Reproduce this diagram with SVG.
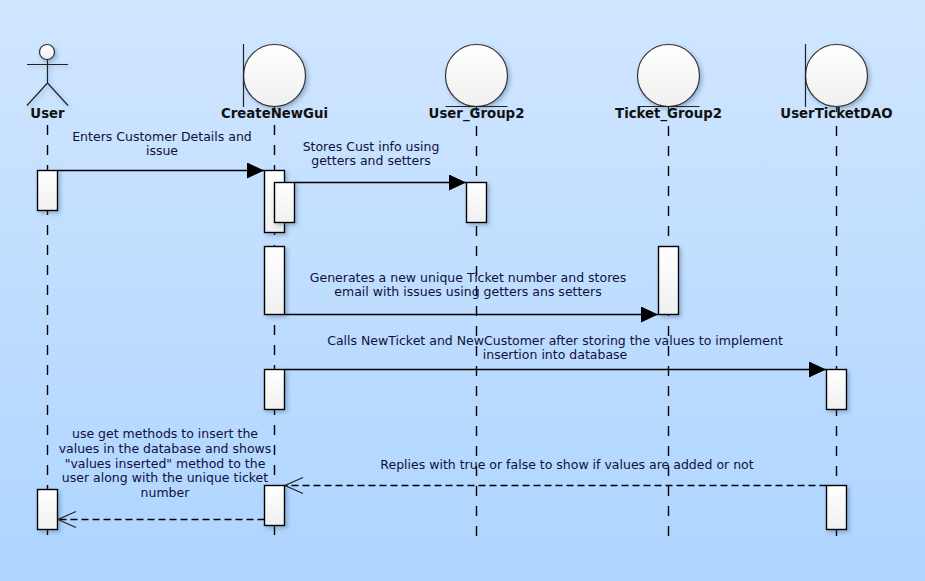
<svg xmlns="http://www.w3.org/2000/svg" width="925" height="581" viewBox="0 0 925 581">
<style>
text{font-family:"DejaVu Sans",Verdana,sans-serif;font-size:12.5px;fill:#10103a;text-anchor:middle}
.n{font-weight:bold;fill:#111;font-size:13.300px}
.life{stroke:#000;stroke-width:1.4;stroke-dasharray:10 10;fill:none}
.act{fill:url(#fill);stroke:#000;stroke-width:1.4;filter:url(#sh)}
.shape{fill:url(#fill);stroke:#333;stroke-width:1.2;filter:url(#sh)}
.ln{stroke:#222;stroke-width:1.2;fill:none}
.stick{filter:url(#sh)}
.msg{stroke:#000;stroke-width:1.3;fill:none}
.solid{marker-end:url(#tri)}
.ret{stroke-dasharray:7 4;marker-end:url(#open)}
</style>
<defs>
<linearGradient id="bg" x1="0" y1="0" x2="0" y2="1"><stop offset="0" stop-color="#d0e6ff"/><stop offset="1" stop-color="#aed5ff"/></linearGradient>
<linearGradient id="fill" x1="0" y1="0" x2="0" y2="1"><stop offset="0" stop-color="#ffffff"/><stop offset="1" stop-color="#f0f0f0"/></linearGradient>
<filter id="sh" x="-30%" y="-30%" width="170%" height="170%"><feDropShadow dx="2" dy="2" stdDeviation="2" flood-color="#3a5a80" flood-opacity="0.4"/></filter>
<marker id="tri" markerUnits="userSpaceOnUse" markerWidth="18" markerHeight="16" refX="17" refY="8" orient="auto"><path d="M0 0L17 8L0 16Z" fill="#000"/></marker>
<marker id="open" markerUnits="userSpaceOnUse" markerWidth="20" markerHeight="20" refX="19" refY="9" orient="auto"><path d="M1 1L19 9L1 17" fill="none" stroke="#222" stroke-width="1.2"/></marker>
</defs>
<rect width="925" height="581" fill="url(#bg)"/>

<g id="lifelines">
<path class="life" d="M47.500 125V536"/>
<path class="life" d="M274.500 125V536"/>
<path class="life" d="M476.500 126V537"/>
<path class="life" d="M668.500 126V537"/>
<path class="life" d="M836.500 126V537"/>
</g>

<g id="node-user">
<circle class="shape" cx="47" cy="52" r="7.500"/>
<path class="ln stick" d="M27 64.500H68M47.500 60V83M47.500 83L27 105.500M47.500 83L68 105.500"/>
<text class="n" x="47.500" y="118">User</text>
<rect class="act" x="37.500" y="170.500" width="20" height="40"/>
<rect class="act" x="37.500" y="489.500" width="20" height="40"/>
</g>
<g id="node-createnewgui">
<circle class="shape" cx="274.500" cy="75.500" r="31"/>
<path class="ln" d="M243.500 44V107M274.500 107V112"/>
<text class="n" x="274.500" y="118">CreateNewGui</text>
<rect class="act" x="264.500" y="170.500" width="20" height="62"/>
<rect class="act" x="274.500" y="182.500" width="20" height="40"/>
<rect class="act" x="264.500" y="246.500" width="20" height="68"/>
<rect class="act" x="264.500" y="369.500" width="20" height="40"/>
<rect class="act" x="264.500" y="485.500" width="20" height="40"/>
</g>
<g id="node-user-group2">
<circle class="shape" cx="476.500" cy="75.500" r="31"/>
<path class="ln" d="M445.500 106.500H507.500M476.500 107V112"/>
<text class="n" x="476.500" y="118">User_Group2</text>
<rect class="act" x="466.500" y="182.500" width="20" height="40"/>
</g>
<g id="node-ticket-group2">
<circle class="shape" cx="668.500" cy="75.500" r="31"/>
<path class="ln" d="M637.500 106.500H699.500M668.500 107V112"/>
<text class="n" x="668.500" y="118">Ticket_Group2</text>
<rect class="act" x="658.500" y="246.500" width="20" height="68"/>
</g>
<g id="node-userticketdao">
<circle class="shape" cx="836.500" cy="75.500" r="31"/>
<path class="ln" d="M805.500 44V107M836.500 107V112"/>
<text class="n" x="836.500" y="118">UserTicketDAO</text>
<rect class="act" x="826.500" y="369.500" width="20" height="40"/>
<rect class="act" x="826.500" y="485.500" width="20" height="44"/>
</g>

<g id="connectors">
<path class="msg solid" d="M57.500 170.500H264"/>
<path class="msg solid" d="M294.500 182.500H466"/>
<path class="msg solid" d="M284.500 314.500H658"/>
<path class="msg solid" d="M284.500 369.500H826"/>
<path class="msg ret" d="M826.500 485.500H285"/>
<path class="msg ret" d="M264.500 519.500H58"/>
</g>
<g id="labels">
<text x="162" y="141">Enters Customer Details and</text>
<text x="162" y="155">issue</text>
<text x="371" y="151">Stores Cust info using</text>
<text x="371" y="165">getters and setters</text>
<text x="468" y="282">Generates a new unique Ticket number and stores</text>
<text x="468" y="296">email with issues using getters ans setters</text>
<text x="555" y="345">Calls NewTicket and NewCustomer after storing the values to implement</text>
<text x="555" y="359">insertion into database</text>
<text x="165" y="438">use get methods to insert the</text>
<text x="165" y="453">values in the database and shows</text>
<text x="165" y="468">"values inserted" method to the</text>
<text x="165" y="482">user along with the unique ticket</text>
<text x="165" y="497">number</text>
<text x="567" y="469">Replies with true or false to show if values are added or not</text>
</g>
</svg>
